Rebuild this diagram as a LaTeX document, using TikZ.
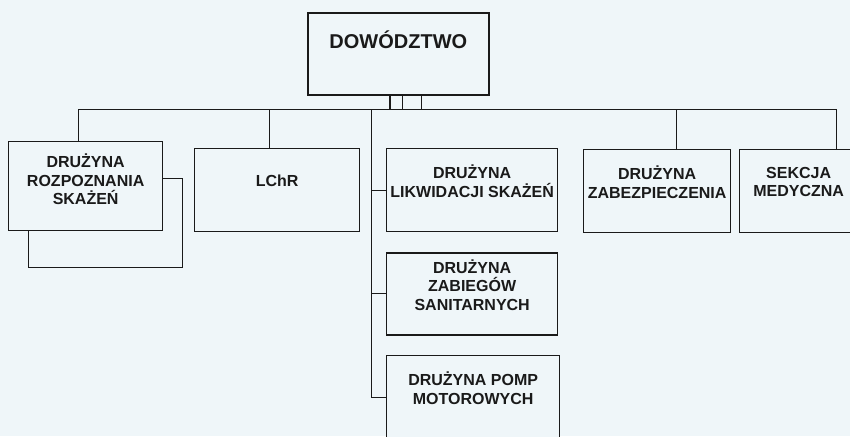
\documentclass[tikz,border=0pt]{standalone}
\usepackage{fontspec}
\setmainfont{Liberation Sans}
\usepackage{xcolor}
\usepackage{tikz}
\usetikzlibrary{positioning}
\definecolor{paper}{HTML}{EFF6F9}
\definecolor{ink}{HTML}{1A1A1A}
\tikzset{
  unit/.style={rectangle,draw=ink,fill=paper,line width=1.3pt,inner sep=0pt,align=center,
    minimum width=#1,minimum height=83pt,text depth=18pt,anchor=north west,
    font=\fontsize{16}{18.5}\selectfont\bfseries,text=ink},
  unit/.default=165pt,
  head/.style={unit=181pt,minimum height=82pt,line width=1.6pt,text height=36pt,text depth=46pt,
    font=\fontsize{20}{24}\selectfont\bfseries},
  link/.style={draw=ink,line width=1pt},
  stub/.style={draw=ink,line width=#1},
  stub/.default=1pt
}

\begin{document}
\begin{tikzpicture}[x=1pt,y=-1pt]
\useasboundingbox (0,0) rectangle (850,436);
\fill[paper] (0,0) rectangle (850,436);
\clip (0,0) rectangle (850,436);
% top
\node[head] (dow) at (307,12) {DOWÓDZTWO};
% first row
\node[unit=154pt,minimum height=89pt] (rozpback) at (28,178) {};
\node[unit=154pt,minimum height=89pt,text depth=14pt] (rozp) at (8,141) {DRUŻYNA\\ROZPOZNANIA\\SKAŻEŃ};
\node[unit=165pt] (lchr) at (194,148) {LChR};
\node[unit=171pt] (likw) at (386,148) {DRUŻYNA\\LIKWIDACJI SKAŻEŃ};
\node[unit=147pt] (zabezp) at (583,149) {DRUŻYNA\\ZABEZPIECZENIA};
\node[unit=118pt] (sekcja) at (739,149) {SEKCJA\\MEDYCZNA};
% column under the spine
\node[unit=171pt,minimum height=82pt,below=20pt of likw.south west,anchor=north west] (zab) {DRUŻYNA\\ZABIEGÓW\\SANITARNYCH};
\node[unit=173pt,minimum height=84pt,below=19pt of zab.south west,anchor=north west] (pomp) {DRUŻYNA POMP\\MOTOROWYCH};
% bus
\coordinate (busL) at (78,109);
\coordinate (busR) at (836,109);
\coordinate (dropL) at (269,109);
\coordinate (spine) at (371,109);
\coordinate (dropZ) at (676,109);
\draw[link] (busL) -- (busR);
\foreach \x/\w in {390/2pt,402/1pt,421/1pt}
  \draw[stub=\w] (dow.south -| \x,0) -- (busL -| \x,0);
\draw[link] (busL) -- (busL |- rozp.north);
\draw[link] (dropL) -- (dropL |- lchr.north);
\draw[link] (dropZ) -- (dropZ |- zabezp.north);
\draw[link] (busR) -- (busR |- sekcja.north);
\draw[link] (spine) |- (pomp.west);
\draw[link] (spine |- likw.west) -- (likw.west);
\draw[link] (spine |- zab.west) -- (zab.west);
\end{tikzpicture}
\end{document}
